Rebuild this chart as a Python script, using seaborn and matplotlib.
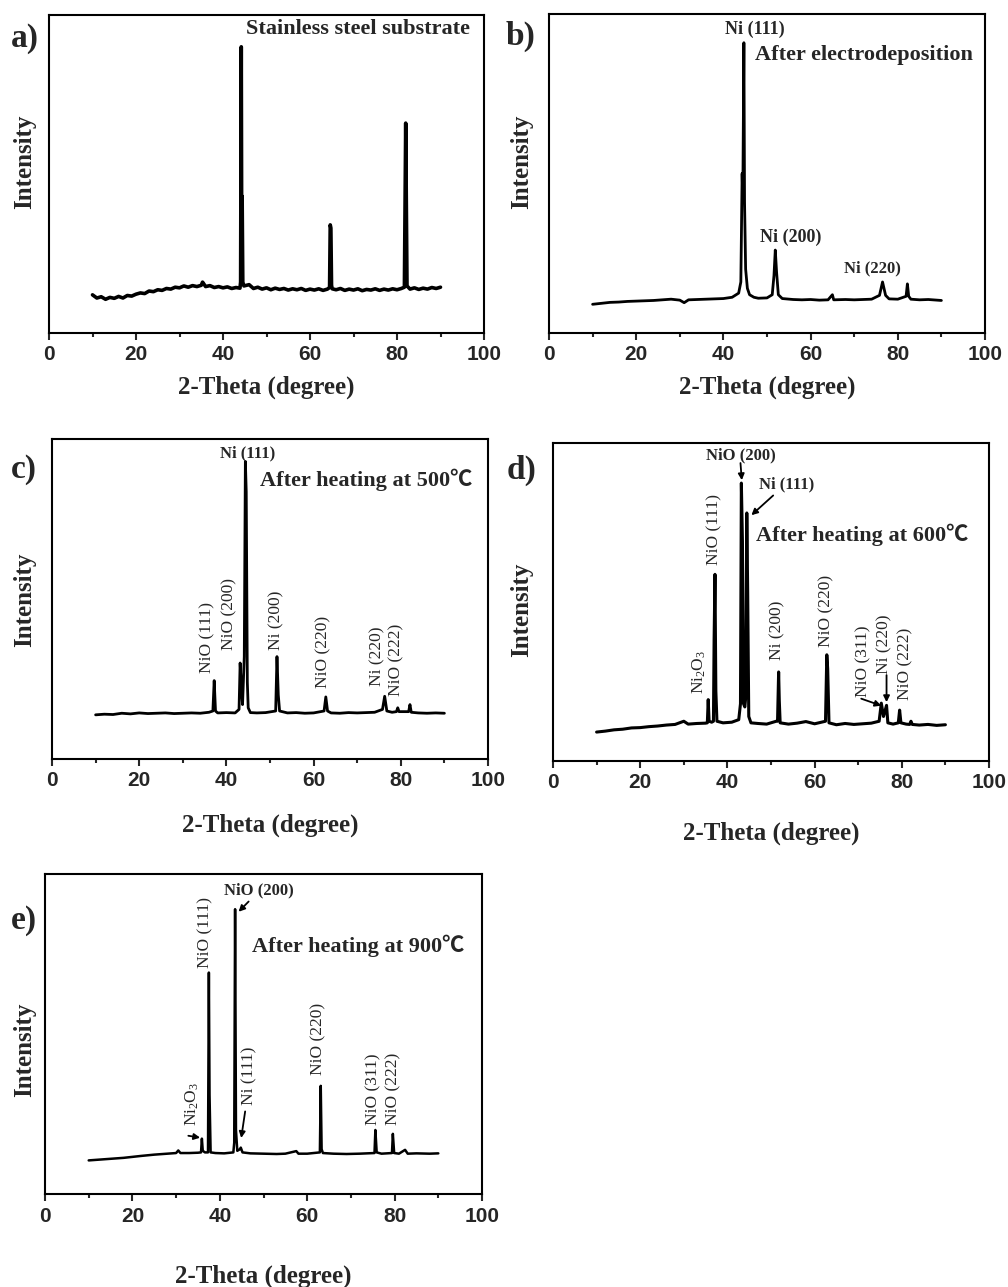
import numpy as np
import pandas as pd
import matplotlib.pyplot as plt
import seaborn as sns

# ---- XRD patterns (2-theta in degree, intensity in % of panel height) ----
a_theta = [10, 11, 12, 13, 14, 15, 16, 17, 18, 19, 20, 21, 22, 23, 24, 25, 26, 27, 28, 29, 30, 31, 32, 33,
           34, 35, 35.3, 36, 37, 38, 39, 40, 41, 42, 43, 43.9, 44.05, 44.2, 44.3, 44.4, 44.55, 44.8, 46, 47,
           48, 49, 50, 51, 52, 53, 54, 55, 56, 57, 58, 59, 60, 61, 62, 63, 64, 64.5, 64.65, 64.8, 64.95, 65.1,
           66, 67, 68, 69, 70, 71, 72, 73, 74, 75, 76, 77, 78, 79, 80, 81, 81.7, 81.85, 82.0, 82.15, 82.3,
           83, 84, 85, 86, 87, 88, 89, 90]
a_int = [12.0, 11.0, 11.4, 10.6, 11.2, 10.9, 11.5, 11.0, 11.8, 11.6, 12.2, 12.6, 12.4, 13.2, 13.0, 13.6, 13.4,
         14.0, 13.8, 14.4, 14.2, 14.8, 14.4, 14.9, 14.6, 15.0, 16.0, 14.6, 14.9, 14.3, 14.6, 14.2, 14.5, 14.0,
         14.3, 14.1, 16.0, 90.0, 30.0, 43.0, 16.0, 14.8, 15.2, 14.0, 14.4, 13.8, 14.2, 13.6, 14.1, 13.7, 14.0,
         13.5, 13.9, 13.6, 14.0, 13.4, 13.8, 13.5, 13.9, 13.4, 13.8, 14.3, 34.0, 33.0, 15.0, 13.9, 13.6, 14.0,
         13.4, 13.8, 13.5, 13.9, 13.3, 13.7, 13.5, 13.9, 13.4, 13.8, 13.5, 13.9, 13.6, 14.0, 14.4, 40.0, 66.0,
         40.0, 14.8, 13.8, 14.2, 13.7, 14.1, 13.8, 14.3, 14.0, 14.4]

b_theta = [10, 12, 14, 16, 18, 20, 22, 24, 26, 28, 30, 31, 32, 34, 36, 38, 40, 42, 43.5, 44.0, 44.3, 44.45,
           44.7, 44.85, 45.1, 45.5, 46, 47, 48, 50, 51.2, 51.6, 51.9, 52.2, 52.6, 53.5, 56, 58, 60, 62, 64,
           65, 65.3, 68, 70, 72, 74, 75.8, 76.5, 77.2, 78, 80, 81.9, 82.2, 82.5, 83, 85, 87, 90]
b_int = [9.0, 9.3, 9.6, 9.7, 9.9, 10.0, 10.1, 10.2, 10.4, 10.6, 10.3, 9.5, 10.4, 10.5, 10.6, 10.7, 10.8, 11.2,
         12.5, 16.0, 50.0, 42.0, 91.0, 41.0, 20.0, 14.0, 12.0, 11.2, 10.9, 11.0, 12.0, 18.0, 26.0, 19.0, 12.0,
         10.8, 10.5, 10.4, 10.5, 10.3, 10.4, 12.0, 10.4, 10.5, 10.4, 10.5, 10.6, 11.8, 16.0, 11.8, 10.7, 10.6,
         11.5, 15.4, 11.5, 10.6, 10.4, 10.5, 10.2]

c_theta = [10, 12, 14, 16, 18, 20, 22, 24, 26, 28, 30, 32, 34, 36, 36.9, 37.2, 37.5, 38, 40, 42, 42.9, 43.15,
           43.45, 43.7, 44.1, 44.35, 44.55, 44.8, 45.0, 45.5, 47, 49, 51.3, 51.6, 51.9, 52.2, 54, 56, 58,
           60, 62.4, 62.8, 63.2, 64, 66, 68, 70, 72, 74, 75.8, 76.3, 76.8, 78, 79.0, 79.3, 79.6, 81.8, 82.1,
           82.4, 84, 86, 88, 90]
c_int = [13.8, 14.0, 13.9, 14.3, 14.1, 14.4, 14.2, 14.3, 14.4, 14.2, 14.3, 14.4, 14.3, 14.6, 15.0, 24.5,
         15.0, 14.4, 14.5, 14.4, 15.5, 30.0, 22.0, 17.0, 32.0, 93.0, 83.5, 24.0, 16.0, 14.5, 14.4, 14.5, 15.0,
         32.0, 20.0, 15.0, 14.4, 14.5, 14.3, 14.4, 15.0, 19.4, 15.0, 14.4, 14.3, 14.5, 14.4, 14.5, 14.6, 15.5,
         19.6, 15.0, 14.6, 14.8, 16.0, 14.8, 14.8, 17.0, 14.6, 14.4, 14.3, 14.4, 14.3]

d_theta = [10, 12, 14, 16, 18, 20, 22, 24, 26, 28, 30, 31, 33, 35, 35.4, 35.6, 35.8, 36.4, 36.8, 36.95, 37.15,
           37.35, 37.6, 39, 41, 42.6, 43.0, 43.2, 43.45, 43.7, 44.0, 44.2, 44.45, 44.65, 44.9, 45.4, 47, 49,
           51.2, 51.5, 51.75, 51.9, 52.1, 54, 56, 58, 60, 62.5, 62.8, 63.0, 63.3, 65, 67, 69, 71, 73, 74.8,
           75.3, 75.8, 76.5, 76.8, 78, 79.2, 79.5, 79.8, 81, 81.8, 82.1, 82.4, 84, 86, 88, 90]
d_int = [9.1, 9.4, 9.8, 10.0, 10.4, 10.5, 10.8, 11.0, 11.3, 11.5, 12.5, 11.6, 11.8, 11.9, 12.0, 19.3, 12.5,
         12.2, 12.5, 38.0, 58.7, 22.0, 12.5, 12.0, 12.2, 13.0, 18.0, 87.4, 69.0, 18.0, 17.0, 20.0, 78.0, 53.0,
         14.0, 12.0, 11.8, 11.6, 12.5, 12.5, 28.0, 19.0, 12.0, 11.6, 11.9, 12.4, 11.7, 12.5, 33.4, 29.0, 12.0,
         11.4, 11.8, 11.5, 11.7, 11.9, 12.5, 18.2, 14.0, 17.5, 12.0, 11.6, 12.0, 16.0, 12.0, 11.6, 11.5, 12.5,
         11.5, 11.3, 11.5, 11.2, 11.4]

e_theta = [10, 12, 15, 18, 20, 22, 25, 28, 30, 30.5, 31, 33, 35, 35.7, 35.9, 36.1, 36.6, 37.3, 37.5, 37.65,
           37.9, 39, 41, 43.1, 43.3, 43.5, 43.7, 44.0, 44.6, 44.8, 45.2, 47, 50, 53, 55, 57.5, 58, 60, 62.9,
           63.1, 63.3, 63.6, 66, 69, 72, 75.4, 75.6, 75.9, 77, 79.4, 79.6, 79.9, 81, 82.4, 83, 85, 88, 90]
e_int = [10.5, 10.7, 11.0, 11.3, 11.6, 11.9, 12.3, 12.6, 12.8, 13.6, 12.8, 12.8, 12.9, 13.0, 17.3, 13.5, 13.0,
         13.0, 69.2, 31.0, 13.0, 12.8, 12.7, 13.0, 16.0, 89.0, 20.0, 13.5, 14.0, 14.5, 13.0, 12.7, 12.6, 12.5,
         12.6, 13.4, 12.6, 12.6, 13.0, 33.8, 14.0, 12.8, 12.6, 12.5, 12.6, 12.8, 20.0, 13.0, 12.6, 12.8, 18.8,
         12.8, 12.6, 13.8, 12.6, 12.7, 12.6, 12.7]

x_ticks = [0, 20, 40, 60, 80, 100]

sns.set_style("ticks")
plt.rcParams['font.family'] = ['Liberation Serif', 'Noto Sans CJK SC', 'DejaVu Sans']
plt.rcParams['mathtext.default'] = 'regular'

fig = plt.figure(figsize=(10.08, 12.87), dpi=100)
W, H = 1008, 1287


def make_axes(left, top, right, bottom):
    return fig.add_axes([left / W, 1 - bottom / H, (right - left) / W, (bottom - top) / H])


panels = {
    'a': dict(box=(49, 15, 484, 333), theta=a_theta, inten=a_int, lw=2.6, xl=54, yl=(-0.055, 0.538)),
    'b': dict(box=(549, 14, 985, 333), theta=b_theta, inten=b_int, lw=2.0, xl=54, yl=(-0.062, 0.536)),
    'c': dict(box=(52, 439, 488, 759), theta=c_theta, inten=c_int, lw=2.0, xl=66, yl=(-0.062, 0.497)),
    'd': dict(box=(553, 443, 989, 761), theta=d_theta, inten=d_int, lw=2.2, xl=72, yl=(-0.071, 0.475)),
    'e': dict(box=(45, 874, 482, 1194), theta=e_theta, inten=e_int, lw=1.8, xl=82, yl=(-0.046, 0.45)),
}
letters = {'a': (25, 38), 'b': (520, 36), 'c': (24, 469), 'd': (522, 470), 'e': (24, 920)}

axes = {}
for key, p in panels.items():
    ax = make_axes(*p['box'])
    df = pd.DataFrame({'theta': p['theta'], 'intensity': p['inten']})
    sns.lineplot(data=df, x='theta', y='intensity', ax=ax, color='black', lw=p['lw'],
                 sort=False, estimator=None)
    ax.set_xlim(0, 100)
    ax.set_ylim(0, 100)
    ax.set_xticks(x_ticks)
    ax.set_xticks([10, 30, 50, 70, 90], minor=True)
    ax.set_yticks([])
    ax.tick_params(axis='x', which='major', direction='out', length=5, width=1.5, pad=4,
                   labelsize=15)
    ax.tick_params(axis='x', which='minor', direction='out', length=3, width=1.5)
    for lab in ax.get_xticklabels():
        lab.set_fontfamily('Liberation Sans')
        lab.set_fontweight('bold')
    for s in ax.spines.values():
        s.set_visible(True)
        s.set_linewidth(1.5)
        s.set_color('black')
    hpx = p['box'][3] - p['box'][1]
    ax.set_xlabel('2-Theta (degree)', fontsize=18, fontweight='bold', va='center')
    ax.xaxis.set_label_coords(0.5, -p['xl'] / hpx)
    ax.set_ylabel('Intensity', fontsize=18, fontweight='bold', va='center')
    ax.yaxis.set_label_coords(*p['yl'])
    lx, ly = letters[key]
    fig.text(lx / W, 1 - ly / H, key + ')', fontsize=24, fontweight='bold', ha='center', va='center')
    axes[key] = ax


def vlabel(ax, txt, x, y):
    ax.text(x, y, txt, rotation=90, ha='center', va='bottom', fontsize=12.5)


def arrow(ax, start, end):
    ax.annotate('', xy=end, xytext=start,
                arrowprops=dict(arrowstyle='-|>', color='black', lw=1.3, mutation_scale=9,
                                shrinkA=0, shrinkB=0))


# a)
ax = axes['a']
ax.text(96.7, 95.5, 'Stainless steel substrate', ha='right', va='center', fontsize=16, fontweight='bold')

# b)
ax = axes['b']
ax.text(47.2, 95.2, 'Ni (111)', ha='center', va='center', fontsize=13, fontweight='bold')
ax.text(47.2, 87.1, 'After electrodeposition', ha='left', va='center', fontsize=16, fontweight='bold')
ax.text(55.4, 30.1, 'Ni (200)', ha='center', va='center', fontsize=13, fontweight='bold')
ax.text(74.1, 20.2, 'Ni (220)', ha='center', va='center', fontsize=12, fontweight='bold')

# c)
ax = axes['c']
ax.text(44.8, 95.5, 'Ni (111)', ha='center', va='center', fontsize=12, fontweight='bold')
ax.text(47.7, 87.2, 'After heating at 500\u2103', ha='left', va='center', fontsize=16, fontweight='bold')
vlabel(ax, 'NiO (111)', 35.6, 26.8)
vlabel(ax, 'NiO (200)', 40.8, 34.1)
vlabel(ax, 'Ni (200)', 51.5, 34.1)
vlabel(ax, 'NiO (220)', 62.2, 22.2)
vlabel(ax, 'Ni (220)', 74.7, 22.7)
vlabel(ax, 'NiO (222)', 79.0, 19.6)

# d)
ax = axes['d']
ax.text(43.2, 96.1, 'NiO (200)', ha='center', va='center', fontsize=12, fontweight='bold')
arrow(ax, (43.0, 93.7), (43.3, 88.3))
ax.text(53.5, 87.0, 'Ni (111)', ha='center', va='center', fontsize=12, fontweight='bold')
arrow(ax, (50.5, 83.5), (45.5, 77.3))
ax.text(46.6, 71.0, 'After heating at 600\u2103', ha='left', va='center', fontsize=16, fontweight='bold')
vlabel(ax, 'NiO (111)', 37.1, 61.5)
vlabel(ax, 'Ni$_2$O$_3$', 33.5, 21.2)
vlabel(ax, 'Ni (200)', 51.4, 31.7)
vlabel(ax, 'NiO (220)', 62.8, 35.8)
vlabel(ax, 'NiO (311)', 71.1, 20.1)
arrow(ax, (70.7, 19.6), (75.3, 17.4))
vlabel(ax, 'Ni (220)', 75.9, 27.5)
arrow(ax, (76.5, 27.0), (76.5, 18.5))
vlabel(ax, 'NiO (222)', 80.9, 19.3)

# e)
ax = axes['e']
ax.text(48.9, 95.0, 'NiO (200)', ha='center', va='center', fontsize=12, fontweight='bold')
arrow(ax, (46.6, 91.4), (44.3, 88.2))
ax.text(47.3, 77.5, 'After heating at 900\u2103', ha='left', va='center', fontsize=16, fontweight='bold')
vlabel(ax, 'NiO (111)', 36.6, 70.6)
vlabel(ax, 'Ni$_2$O$_3$', 33.8, 21.1)
arrow(ax, (32.8, 18.2), (35.5, 17.6))
vlabel(ax, 'Ni (111)', 46.8, 27.9)
arrow(ax, (45.8, 25.8), (44.9, 17.5))
vlabel(ax, 'NiO (220)', 62.6, 37.3)
vlabel(ax, 'NiO (311)', 75.2, 21.6)
vlabel(ax, 'NiO (222)', 79.8, 21.6)

fig.savefig('out.png', dpi=100)
